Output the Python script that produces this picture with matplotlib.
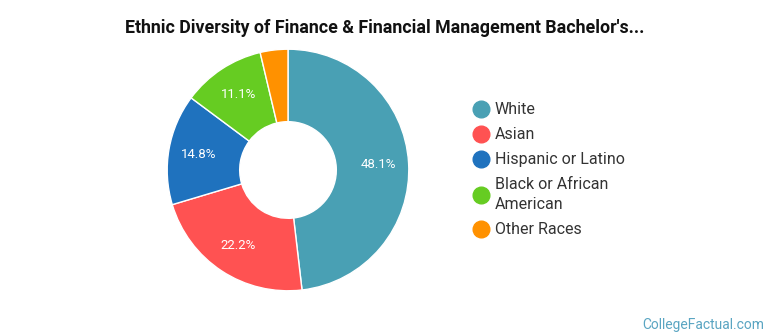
import matplotlib.pyplot as plt
from matplotlib.lines import Line2D

plt.rcParams['font.family'] = ['Roboto', 'DejaVu Sans']

labels = ['White', 'Asian', 'Hispanic or Latino', 'Black or African\nAmerican', 'Other Races']
shares = [48.1, 22.2, 14.8, 11.1, 3.7]
colors = ['#49A0B4', '#FF5252', '#1F72BE', '#66CC22', '#FF9100']
title = "Ethnic Diversity of Finance & Financial Management Bachelor's..."


def fmt(p):
    return '%.1f%%' % p if p > 5 else ''


fig = plt.figure(figsize=(7.7, 3.35), dpi=100)
ax = fig.add_axes([(288 - 122) / 770, (335 - 170 - 122) / 335, 244 / 770, 244 / 335])

wedges, texts, autotexts = ax.pie(
    shares, colors=colors, startangle=90, counterclock=False,
    autopct=fmt, pctdistance=0.75,
    wedgeprops=dict(width=0.6, edgecolor='white', linewidth=1),
    textprops=dict(color='white', fontsize=9.5))
ax.set_xlim(-1.01, 1.01)
ax.set_ylim(-1.01, 1.01)
ax.set_aspect('equal')

fig.text(0.5, 0.915, title, ha='center', va='center', fontsize=12.8, fontweight='bold', color='#111111')

handles = [Line2D([], [], marker='o', linestyle='', markersize=12, markerfacecolor=c, markeredgecolor=c)
           for c in colors]
leg = fig.legend(handles, labels, loc='upper left', bbox_to_anchor=(457 / 770, 1 - 88 / 335),
                 frameon=False, fontsize=11.5, labelspacing=0.62, handletextpad=0.25,
                 handlelength=1.2, labelcolor='#333333')
for t in leg.get_texts():
    t.set_linespacing(1.45)

fig.text(0.993, 0.03, 'CollegeFactual.com', ha='right', va='center', fontsize=10, color='#5AA5C2')

fig.savefig('out.png', dpi=100)
